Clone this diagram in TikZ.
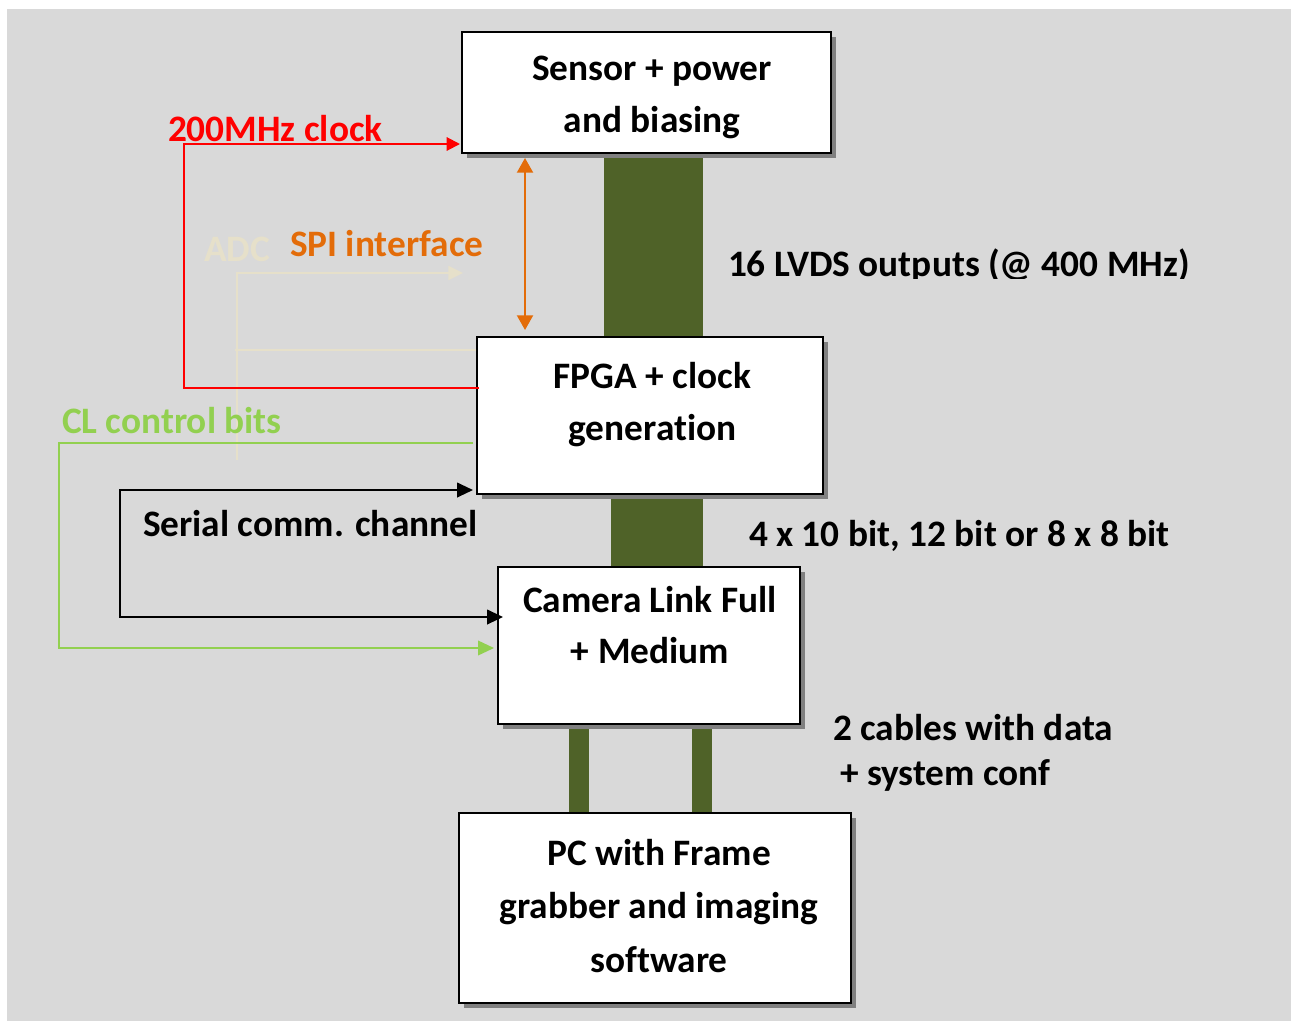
\documentclass[tikz,border=0pt]{standalone}
\usepackage{fontspec}
\setmainfont{Carlito}[Ligatures=NoCommon]
\usetikzlibrary{shadows,arrows.meta,calc,backgrounds}
\definecolor{bggray}{HTML}{D9D9D9}
\definecolor{olivebar}{HTML}{4F6228}
\definecolor{spiorange}{HTML}{E36C09}
\definecolor{clgreen}{HTML}{92D050}
\definecolor{adcbeige}{RGB}{230,224,202}
\definecolor{shadowgray}{HTML}{808080}
\definecolor{clkred}{HTML}{FF0000}
\begin{document}
\begin{tikzpicture}[x=0.75pt,y=-0.75pt,
  box/.style={draw=black, line width=1.5pt, fill=white, rectangle, inner sep=0pt, outer sep=0pt, anchor=north west,
    drop shadow={shadow xshift=3.75pt, shadow yshift=-3.75pt, fill=shadowgray, opacity=1}},
  txt/.style={font=\fontsize{28}{39}\selectfont\bfseries, inner sep=0pt, outer sep=0pt},
  bar/.style={draw=olivebar},
  clkline/.style={draw=clkred, line width=1.5pt, -{Triangle[length=10pt,width=10pt]}},
  spiline/.style={draw=spiorange, line width=1.5pt, {Triangle[length=11pt,width=12pt]}-{Triangle[length=11pt,width=12pt]}},
  adcline/.style={draw=adcbeige, line width=1.2pt},
  ctrlline/.style={draw=clgreen, line width=1.2pt, -{Triangle[length=12pt,width=11pt]}},
  serline/.style={draw=black, line width=1.5pt, {Triangle[length=12pt,width=11pt]}-{Triangle[length=12pt,width=11pt]}}
]
\useasboundingbox (0,0) rectangle (1291,1021);

% boxes
\node[box, minimum width=276.75pt, minimum height=90.75pt] (sensor) at (462,32) {};
\node[box, minimum width=259.5pt, minimum height=117.75pt] (fpga) at (477,337) {};
\node[box, minimum width=226.5pt, minimum height=117.75pt] (cl) at (498,567) {};
\node[box, minimum width=294pt, minimum height=142.5pt] (pc) at (459,813) {};

% box texts
\node[txt, anchor=base] (s1) at (652,80) {Sensor + power};
\node[txt, anchor=base] (s2) at (652,132) {and biasing};
\node[txt, anchor=base] (f1) at (652.5,388) {FPGA + clock};
\node[txt, anchor=base] (f2) at (652.5,440) {generation};
\node[txt, anchor=base] (c1t) at (650,612) {Camera Link Full};
\node[txt, anchor=base] (c2t) at (650,663) {+ Medium};
\node[txt, anchor=base] (p1) at (659,865) {PC with Frame};
\node[txt, anchor=base] (p2) at (659,918) {grabber and imaging};
\node[txt, anchor=base] (p3) at (659,972) {software};

% background and data bars
\begin{pgfonlayer}{background}
  \fill[bggray] (7,9) rectangle (1291,1021);
  \coordinate (b1) at (653.5,0);
  \coordinate (b2) at (657,0);
  \coordinate (k1) at (579,0);
  \coordinate (k2) at (702,0);
  \draw[bar, line width=74.25pt] (sensor.south -| b1) -- (fpga.north -| b1);
  \draw[bar, line width=69pt] (fpga.south -| b2) -- (cl.north -| b2);
  \draw[bar, line width=15pt] (cl.south -| k1) -- (pc.north -| k1);
  \draw[bar, line width=15pt] (cl.south -| k2) -- (pc.north -| k2);
\end{pgfonlayer}

% faint ADC connector
\coordinate (adcl) at (235,350);
\coordinate (adcb) at (237,460);
\coordinate (adct) at (237,273);
\coordinate (adce) at (463,273);
\draw[adcline] ($(fpga.north west)+(-1,13)$) -- (adcl);
\draw[adcline, -{Triangle[length=11pt,width=10.5pt]}] (adcb) -- (adct) -- (adce);
\node[txt, text=adcbeige, anchor=base west] (adc) at (204,261) {ADC};

% 200 MHz clock
\coordinate (clkc) at (184,144);
\draw[clkline] ($(fpga.north west)+(2,51)$) -| (clkc) -- ($(sensor.north west)+(-2,112)$);
\node[txt, text=clkred, anchor=base west] (clk) at (168,141) {200MHz clock};

% SPI
\draw[spiline] ($(sensor.south west)+(63,5)$) -- ($(fpga.north west)+(48,-7)$);
\node[txt, text=spiorange, anchor=base west] (spi) at (290,256) {SPI interface};

% CL control bits
\coordinate (ctrlc) at (59,648);
\draw[ctrlline] ($(fpga.north west)+(-4,106)$) -| (ctrlc) -- ($(cl.north west)+(-4,81)$);
\node[txt, text=clgreen, anchor=base west] (ctrl) at (62,433) {CL control bits};

% serial comm channel
\coordinate (serc) at (120,617);
\draw[serline] ($(fpga.north west)+(-4,153)$) -| (serc) -- ($(cl.north west)+(5,50)$);
\node[txt, anchor=base west] (ser) at (143,536) {Serial comm. channel};

% right labels
\begin{scope}
  \clip (700,200) rectangle (1291,278);
  \node[txt, anchor=base west] (lvds) at (728,276) {16 LVDS outputs (@ 400 MHz)};
\end{scope}
\node[txt, anchor=base west] (bits) at (749,546) {4 x 10 bit, 12 bit or 8 x 8 bit};
\node[txt, anchor=base west] (cab1) at (833,740) {2 cables with data};
\node[txt, anchor=base west] (cab2) at (840,785) {+ system conf};
\end{tikzpicture}
\end{document}
